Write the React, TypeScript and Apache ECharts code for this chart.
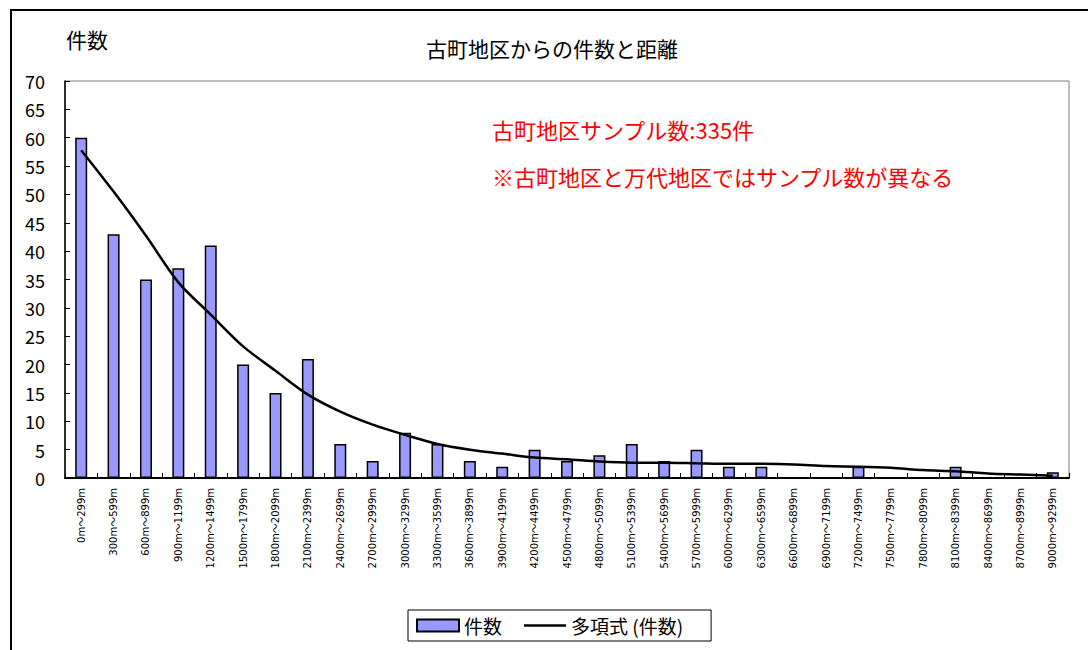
import React, { useEffect, useRef } from "react";
import * as echarts from "echarts";

const categories = [
  "0m～299m", "300m～599m", "600m～899m", "900m～1199m", "1200m～1499m",
  "1500m～1799m", "1800m～2099m", "2100m～2399m", "2400m～2699m", "2700m～2999m",
  "3000m～3299m", "3300m～3599m", "3600m～3899m", "3900m～4199m", "4200m～4499m",
  "4500m～4799m", "4800m～5099m", "5100m～5399m", "5400m～5699m", "5700m～5999m",
  "6000m～6299m", "6300m～6599m", "6600m～6899m", "6900m～7199m", "7200m～7499m",
  "7500m～7799m", "7800m～8099m", "8100m～8399m", "8400m～8699m", "8700m～8999m",
  "9000m～9299m",
];

const counts = [
  60, 43, 35, 37, 41, 20, 15, 21, 6, 3,
  8, 6, 3, 2, 5, 3, 4, 6, 3, 5,
  2, 2, 0, 0, 2, 0, 0, 2, 0, 0,
  1,
];

const trend = [
  57.8, 50.5, 42.7, 34.5, 28.8, 23.2, 18.9, 14.7, 11.7, 9.4,
  7.6, 6.0, 5.0, 4.3, 3.6, 3.3, 2.9, 2.7, 2.7, 2.6,
  2.5, 2.5, 2.4, 2.1, 2.0, 1.8, 1.4, 1.2, 0.8, 0.6,
  0.4,
];

const chartTitle = "古町地区からの件数と距離";
const yAxisName = "件数";
const noteLine1 = "古町地区サンプル数:335件";
const noteLine2 = "※古町地区と万代地区ではサンプル数が異なる";
const barName = "件数";
const lineName = "多項式 (件数)";

const FONT = "'Noto Sans CJK JP', 'Noto Sans', sans-serif";

export default function App() {
  const ref = useRef<HTMLDivElement>(null);

  useEffect(() => {
    document.body.style.margin = "0";
    if (!ref.current) return;
    const chart = echarts.init(ref.current, undefined, { renderer: "svg" });
    chart.setOption({
      animation: false,
      backgroundColor: "#ffffff",
      textStyle: { fontFamily: FONT, color: "#000" },
      grid: {
        left: 65,
        right: 19,
        top: 81,
        bottom: 172,
        show: true,
        borderColor: "#808080",
        borderWidth: 1,
        backgroundColor: "#ffffff",
      },
      legend: {
        left: 408,
        top: 610,
        orient: "horizontal",
        borderColor: "#000",
        borderWidth: 1,
        padding: [6, 28, 6, 8],
        itemWidth: 42,
        itemHeight: 12,
        itemGap: 22,
        textStyle: { fontSize: 19, color: "#000", fontFamily: FONT },
        data: [
          { name: barName, icon: "rect" },
          { name: lineName, icon: "path://M0 5 L42 5 L42 7.5 L0 7.5 Z" },
        ],
      },
      xAxis: {
        type: "category",
        data: categories,
        axisLine: { show: true, lineStyle: { color: "#000", width: 2 } },
        axisTick: { show: true, inside: true, length: 5, lineStyle: { color: "#000" } },
        axisLabel: {
          interval: 0,
          rotate: 90,
          fontSize: 10,
          margin: 10,
          color: "#000",
          fontFamily: "'DejaVu Sans', 'Noto Sans CJK JP', sans-serif",
        },
      },
      yAxis: {
        type: "value",
        min: 0,
        max: 70,
        interval: 5,
        splitLine: { show: false },
        axisLine: { show: true, lineStyle: { color: "#000", width: 1.5 } },
        axisTick: { show: true, inside: true, length: 5, lineStyle: { color: "#000" } },
        axisLabel: { fontSize: 18, color: "#000", margin: 20, fontFamily: FONT },
      },
      series: [
        {
          name: barName,
          type: "bar",
          data: counts,
          barWidth: 12,
          itemStyle: { color: "#9999FF", borderColor: "#000", borderWidth: 1.5 },
          z: 2,
        },
        {
          name: lineName,
          type: "line",
          data: trend,
          smooth: 0.3,
          symbol: "none",
          lineStyle: { color: "#000", width: 2.5 },
          itemStyle: { color: "#000" },
          z: 3,
        },
      ],
      graphic: [
        {
          type: "line",
          shape: { x1: 10, y1: 10, x2: 1088, y2: 10 },
          style: { stroke: "#000", lineWidth: 2 },
        },
        {
          type: "line",
          shape: { x1: 11, y1: 10, x2: 11, y2: 650 },
          style: { stroke: "#000", lineWidth: 2 },
        },
        {
          type: "text",
          x: 552,
          y: 48,
          style: {
            text: chartTitle,
            fontSize: 21,
            fontFamily: FONT,
            fill: "#000",
            textAlign: "center",
            textVerticalAlign: "middle",
          },
        },
        {
          type: "text",
          x: 66,
          y: 39,
          style: {
            text: yAxisName,
            fontSize: 21,
            fontFamily: FONT,
            fill: "#000",
            textAlign: "left",
            textVerticalAlign: "middle",
          },
        },
        {
          type: "text",
          x: 492,
          y: 129,
          z: 10,
          style: {
            text: noteLine1,
            fontSize: 22,
            fontFamily: FONT,
            fill: "#FF0000",
            textAlign: "left",
            textVerticalAlign: "middle",
          },
        },
        {
          type: "text",
          x: 492,
          y: 176,
          z: 10,
          style: {
            text: noteLine2,
            fontSize: 22,
            fontFamily: FONT,
            fill: "#FF0000",
            textAlign: "left",
            textVerticalAlign: "middle",
          },
        },
      ],
    });
    return () => chart.dispose();
  }, []);

  return <div ref={ref} style={{ width: 1088, height: 650 }} />;
}
